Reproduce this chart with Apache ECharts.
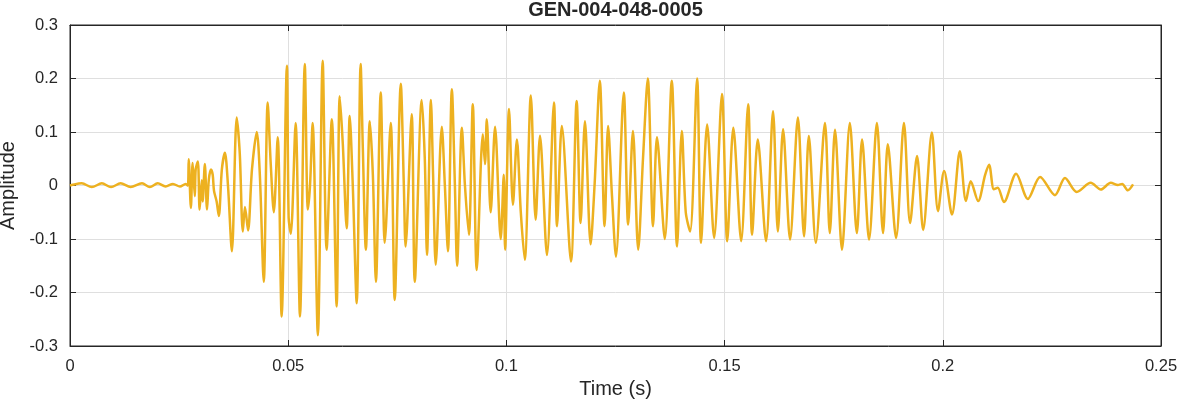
<!DOCTYPE html>
<html>
<head>
<meta charset="utf-8">
<script src="https://cdn.jsdelivr.net/npm/echarts@6/dist/echarts.min.js"></script>
<style>
  html, body { margin: 0; padding: 0; background: #fff; }
  #chart { width: 1182px; height: 404px; }
</style>
</head>
<body>
<div id="chart"></div>
<script>
// title and axis text
const chartTitle = 'GEN-004-048-0005'
const xName = 'Time (s)'
const yName = 'Amplitude'

// waveform turning points: time in ms, amplitude
const timeMs = [
  0, 0.4, 2.7, 5.0, 7.3, 9.4, 11.6, 13.9, 16.5, 18.3, 20.1, 21.9, 23.6, 25.2, 26.5,
  27.0, 27.2, 27.7, 28.1, 28.6, 28.8, 29.3, 29.7, 30.2, 30.4, 30.9, 31.4, 31.8, 32.3, 32.7,
  33.0, 33.6, 34.1, 34.8, 35.5, 36.2, 37.1, 38.2, 38.9, 39.6, 40.1, 40.8, 41.7, 42.8, 43.5,
  44.4, 45.3, 46.0, 46.7, 47.6, 48.5, 49.7, 50.1, 50.6, 51.7, 52.7, 53.8, 54.5, 55.0, 55.6,
  56.8, 57.9, 58.8, 60.0, 61.1, 61.8, 62.5, 63.4, 64.1, 64.8, 65.7, 66.6, 67.1, 67.8, 68.7,
  69.4, 70.1, 71.2, 71.7, 72.1, 73.5, 74.4, 75.8, 76.5, 76.9, 78.3, 79.0, 80.6, 81.3, 81.8,
  82.7, 83.2, 83.8, 85.2, 85.9, 86.6, 87.5, 88.2, 88.7, 89.8, 90.5, 91.4, 92.3, 93.2, 94.6,
  95.1, 95.5, 96.4, 97.4, 98.7, 99.4, 99.7, 100.6, 101.5, 102.4, 103.3, 104.2, 105.6, 106.7, 107.7,
  109.3, 110.9, 111.6, 112.7, 114.8, 116.1, 117.0, 118.0, 119.3, 120.2, 121.4, 122.5, 123.3, 124.2, 125.1,
  126.9, 127.9, 129.0, 130.2, 131.3, 132.4, 133.6, 134.5, 136.3, 137.9, 139.1, 140.2, 141.1, 142.1, 143.7,
  144.6, 146.0, 147.6, 149.4, 150.6, 152.0, 153.8, 155.4, 156.3, 157.6, 159.5, 161.1, 162.2, 163.4, 165.0,
  166.8, 168.2, 169.3, 170.9, 173.0, 174.1, 175.3, 176.9, 178.7, 180.3, 181.5, 183.1, 184.9, 186.3, 187.4,
  189.3, 191.1, 192.5, 194.1, 195.5, 197.5, 198.9, 200.3, 202.1, 203.9, 205.3, 206.4, 208.1, 209.7, 210.6,
  211.7, 212.6, 214.0, 216.8, 219.5, 222.3, 225.7, 228.0, 230.7, 233.9, 236.2, 238.5, 240.1, 241.1, 242.4,
  243.6
]
const amplitude = [
  0, 0.001, 0.004, -0.003, 0.004, -0.003, 0.004, -0.003, 0.004, -0.003, 0.004, -0.002, 0.003, -0.002, 0.003,
  0.0, 0.049, -0.042, 0.042, -0.02, 0.03, 0.045, -0.045, 0.01, -0.03, 0.04, -0.045, 0.01, 0.03, 0.02,
  -0.01, -0.03, -0.057, 0.03, 0.061, 0.0, -0.123, 0.127, 0.06, -0.086, -0.04, -0.084, 0.03, 0.10, 0.02,
  -0.18, 0.155, 0.04, -0.05, 0.09, -0.245, 0.224, -0.06, -0.09, 0.117, -0.245, 0.227, -0.045, 0.0, 0.117,
  -0.28, 0.233, -0.12, 0.124, -0.226, 0.167, 0.08, -0.08, 0.13, 0.0, -0.22, 0.227, 0.07, -0.12, 0.12,
  0.02, -0.18, 0.174, 0.0, -0.107, 0.117, -0.214, 0.19, 0.0, -0.114, 0.133, -0.18, 0.16, 0.05, -0.13,
  0.16, 0.02, -0.148, 0.11, 0.0, -0.123, 0.18, 0.0, -0.15, 0.108, 0.0, -0.092, 0.152, -0.158, 0.096,
  0.04, 0.124, -0.05, 0.11, -0.10, 0.02, -0.12, 0.143, -0.036, 0.086, -0.05, -0.139, 0.168, -0.064, 0.093,
  -0.13, 0.155, -0.076, 0.111, -0.142, 0.158, -0.07, 0.12, -0.11, 0.0, 0.196, -0.076, 0.111, -0.02, -0.133,
  0.174, -0.073, 0.102, -0.12, 0.05, 0.2, -0.076, 0.09, -0.1, 0.196, -0.114, 0.102, -0.05, -0.086, 0.2,
  -0.107, 0.114, -0.098, 0.171, -0.104, 0.108, -0.104, 0.152, -0.092, 0.086, -0.104, 0.139, -0.086, 0.105, -0.101,
  0.127, -0.095, 0.0925, -0.107, 0.117, -0.089, 0.104, -0.12, 0.117, -0.089, 0.086, -0.101, 0.117, -0.089, 0.077,
  -0.098, 0.117, -0.07, 0.055, -0.083, 0.099, -0.048, 0.027, -0.054, 0.064, -0.029, 0.008, -0.029, 0.02, 0.039,
  -0.007, -0.004, -0.031, 0.022, -0.025, 0.016, -0.018, 0.014, -0.012, 0.005, -0.0075, 0.005, 0.001, 0.003, -0.009,
  0.002
]

const waveData = timeMs.map((t, i) => [t / 1000, amplitude[i]])

const txt = '#262626'
const font = 'Liberation Sans, Arial, sans-serif'

const chart = echarts.init(document.getElementById('chart'))
chart.setOption({
  animation: false,
  grid: {
    left: 70,
    right: 21,
    top: 25,
    bottom: 58,
    outerBoundsMode: 'none',
    containLabel: false,
    show: true,
    borderColor: txt,
    borderWidth: 1
  },
  xAxis: [
    {
      type: 'value',
      min: 0,
      max: 0.25,
      interval: 0.05,
      name: xName,
      nameLocation: 'middle',
      nameGap: 32,
      nameTextStyle: { color: txt, fontSize: 20, fontFamily: font },
      axisLine: { show: true, onZero: false, lineStyle: { color: txt } },
      axisTick: { show: true, inside: true, length: 6, lineStyle: { color: txt } },
      axisLabel: { color: txt, fontSize: 16.5, fontFamily: font, margin: 12 },
      splitLine: { show: true, lineStyle: { color: '#dfdfdf' } }
    },
    {
      type: 'value',
      position: 'top',
      min: 0,
      max: 0.25,
      interval: 0.05,
      name: chartTitle,
      nameLocation: 'middle',
      nameGap: 5,
      nameTextStyle: { color: txt, fontSize: 20, fontWeight: 'bold', fontFamily: font },
      axisLine: { show: true, onZero: false, lineStyle: { color: txt } },
      axisTick: { show: true, inside: true, length: 6, lineStyle: { color: txt } },
      axisLabel: { show: false },
      splitLine: { show: false }
    }
  ],
  yAxis: [
    {
      type: 'value',
      min: -0.3,
      max: 0.3,
      interval: 0.1,
      name: yName,
      nameLocation: 'middle',
      nameGap: 48,
      nameTextStyle: { color: txt, fontSize: 20, fontFamily: font },
      axisLine: { show: true, onZero: false, lineStyle: { color: txt } },
      axisTick: { show: true, inside: true, length: 6, lineStyle: { color: txt } },
      axisLabel: { color: txt, fontSize: 16.5, fontFamily: font, margin: 12 },
      splitLine: { show: true, lineStyle: { color: '#dfdfdf' } }
    },
    {
      type: 'value',
      position: 'right',
      min: -0.3,
      max: 0.3,
      interval: 0.1,
      axisLine: { show: true, onZero: false, lineStyle: { color: txt } },
      axisTick: { show: true, inside: true, length: 6, lineStyle: { color: txt } },
      axisLabel: { show: false },
      splitLine: { show: false }
    }
  ],
  series: [
    {
      type: 'line',
      data: waveData,
      showSymbol: false,
      smooth: 0.3,
      lineStyle: { color: '#EDB120', width: 2.5 },
      itemStyle: { color: '#EDB120' }
    }
  ]
})
</script>
</body>
</html>
